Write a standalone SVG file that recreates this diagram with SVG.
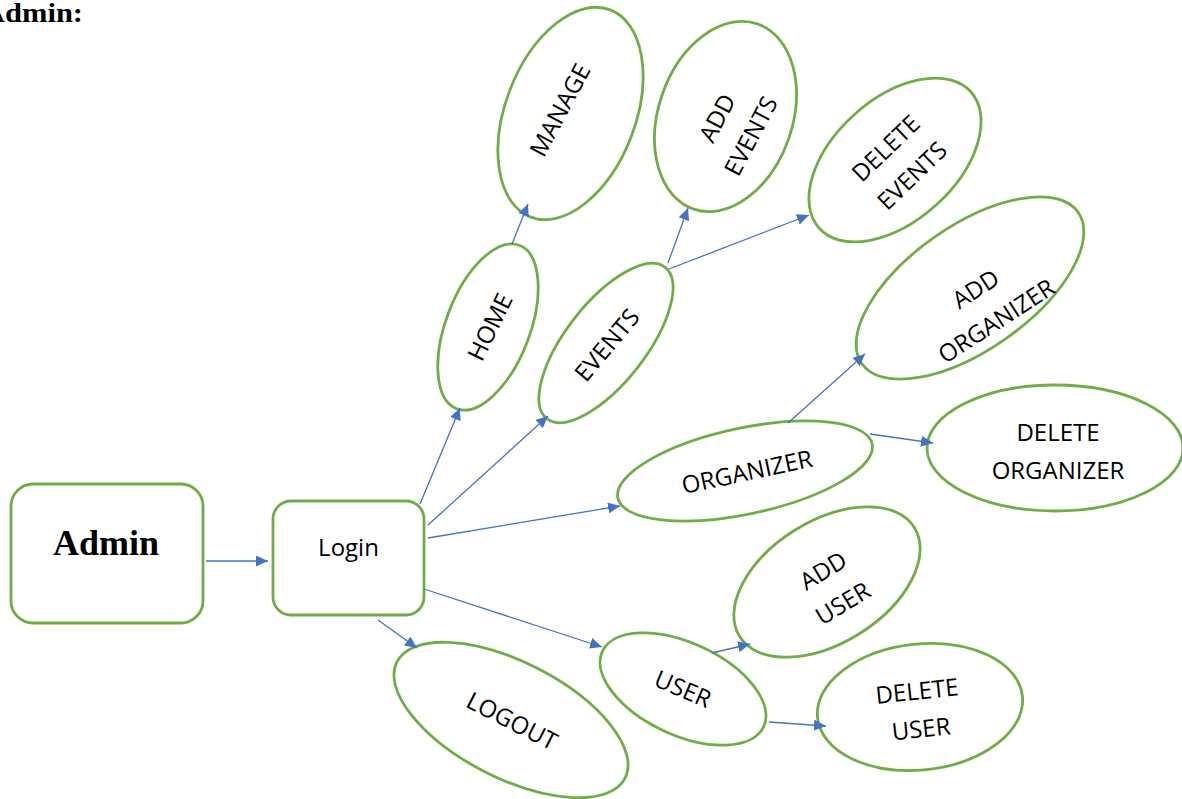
<svg xmlns="http://www.w3.org/2000/svg" width="1182" height="799" viewBox="0 0 1182 799">
<style>
.n{fill:#fff;stroke:#70AD47;stroke-width:2.8}
.t{font-family:"Open Sans","Liberation Sans",sans-serif;font-size:24px;fill:#000;text-anchor:middle}
.b{font-family:"Liberation Serif",serif;font-weight:bold;fill:#000}
.c line{stroke:#4472C4;stroke-width:1.3;marker-end:url(#ah)}
</style>
<defs>
<marker id="ah" markerUnits="userSpaceOnUse" markerWidth="12" markerHeight="11" refX="12" refY="5.5" orient="auto">
<path d="M0,0 L12,5.5 L0,11 z" fill="#4472C4"/>
</marker>
</defs>
<rect width="1182" height="799" fill="#fff"/>
<text class="b" x="-17" y="22" font-size="27" textLength="100" lengthAdjust="spacingAndGlyphs">Admin:</text>
<g id="admin">
<rect class="n" x="11" y="484" width="192" height="139" rx="22"/>
<text class="b" x="106" y="555" font-size="36" text-anchor="middle">Admin</text>
</g>
<g id="login">
<rect class="n" x="273" y="501" width="151" height="114" rx="18"/>
<text class="t" x="348.5" y="556">Login</text>
</g>
<g id="manage">
<ellipse class="n" transform="translate(570.5,113.5) rotate(-69)" rx="111" ry="65"/>
<text class="t" transform="translate(560,110) rotate(-62)" y="8.5">MANAGE</text>
</g>
<g id="add-events">
<ellipse class="n" transform="translate(725.5,116.5) rotate(-71)" rx="98" ry="67"/>
<text class="t" transform="translate(734,127) rotate(-62)"><tspan x="0" y="-10.5">ADD</tspan><tspan x="0" y="27.5">EVENTS</tspan></text>
</g>
<g id="delete-events">
<ellipse class="n" transform="translate(895,160) rotate(-42)" rx="102" ry="61"/>
<text class="t" transform="translate(899,162) rotate(-44)"><tspan x="0" y="-10.5">DELETE</tspan><tspan x="0" y="27.5">EVENTS</tspan></text>
</g>
<g id="add-organizer">
<ellipse class="n" transform="translate(970,288) rotate(-35)" rx="132" ry="62"/>
<text class="t" transform="translate(986,305) rotate(-33)"><tspan x="0" y="-10.5">ADD</tspan><tspan x="0" y="27.5">ORGANIZER</tspan></text>
</g>
<g id="delete-organizer">
<ellipse class="n" cx="1055" cy="448" rx="128" ry="63"/>
<text class="t" transform="translate(1058,451.5)"><tspan x="0" y="-10.5">DELETE</tspan><tspan x="0" y="27.5">ORGANIZER</tspan></text>
</g>
<g id="home">
<ellipse class="n" transform="translate(488,327) rotate(-69)" rx="87.5" ry="42"/>
<text class="t" transform="translate(490,327) rotate(-64)" y="8.5">HOME</text>
</g>
<g id="events">
<ellipse class="n" transform="translate(606,343) rotate(-52)" rx="96" ry="40"/>
<text class="t" transform="translate(607,345) rotate(-50)" y="8.5">EVENTS</text>
</g>
<g id="organizer">
<ellipse class="n" transform="translate(745,471) rotate(-12)" rx="130" ry="43"/>
<text class="t" transform="translate(747,472) rotate(-12)" y="8.5">ORGANIZER</text>
</g>
<g id="logout">
<ellipse class="n" transform="translate(511,720) rotate(27)" rx="128" ry="58"/>
<text class="t" transform="translate(512,721) rotate(27)" y="8.5">LOGOUT</text>
</g>
<g id="user">
<ellipse class="n" transform="translate(683,689) rotate(25)" rx="89" ry="46"/>
<text class="t" transform="translate(683,689) rotate(23)" y="8.5">USER</text>
</g>
<g id="add-user">
<ellipse class="n" transform="translate(827,582) rotate(-32)" rx="103" ry="61"/>
<text class="t" transform="translate(833,587) rotate(-31)"><tspan x="0" y="-10.5">ADD</tspan><tspan x="0" y="27.5">USER</tspan></text>
</g>
<g id="delete-user">
<ellipse class="n" transform="translate(920,707) rotate(-6)" rx="103" ry="63"/>
<text class="t" transform="translate(919,710) rotate(-6)"><tspan x="0" y="-10.5">DELETE</tspan><tspan x="0" y="27.5">USER</tspan></text>
</g>
<g class="c">
<line x1="206" y1="561" x2="268" y2="561"/>
<line x1="420" y1="504" x2="460" y2="408"/>
<line x1="428" y1="525" x2="548" y2="416"/>
<line x1="428" y1="538" x2="620" y2="506"/>
<line x1="424" y1="589" x2="602" y2="647"/>
<line x1="378" y1="620" x2="417" y2="648"/>
<line x1="512" y1="244" x2="528" y2="204"/>
<line x1="668" y1="263" x2="688" y2="208"/>
<line x1="669" y1="269" x2="809" y2="215"/>
<line x1="788" y1="423" x2="865" y2="354"/>
<line x1="870" y1="434" x2="933" y2="443"/>
<line x1="712" y1="653" x2="750" y2="644"/>
<line x1="769" y1="722" x2="826" y2="726"/>
</g>
</svg>
